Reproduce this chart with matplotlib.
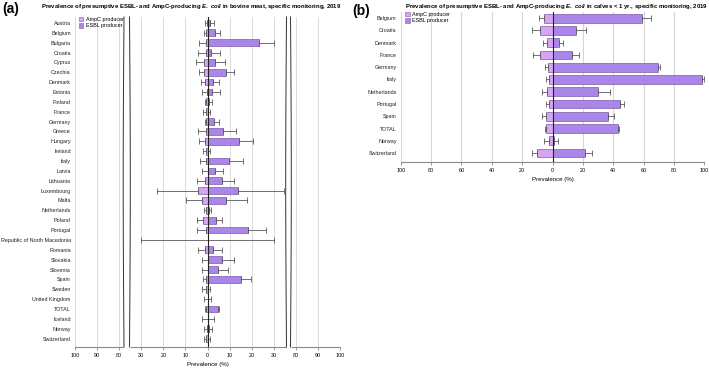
import numpy as np
import matplotlib
matplotlib.use("Agg")
import matplotlib.pyplot as plt
from matplotlib.patches import Patch

plt.rcParams['font.family'] = ['Liberation Sans', 'DejaVu Sans']
plt.rcParams['mathtext.fontset'] = 'custom'
plt.rcParams['mathtext.it'] = 'Liberation Sans:italic:bold'
plt.rcParams['mathtext.rm'] = 'Liberation Sans:bold'

# ---------------- Panel (a): bovine meat ----------------
countries_a = ["Austria", "Belgium", "Bulgaria", "Croatia", "Cyprus", "Czechia", "Denmark",
               "Estonia", "Finland", "France", "Germany", "Greece", "Hungary", "Ireland",
               "Italy", "Latvia", "Lithuania", "Luxembourg", "Malta", "Netherlands", "Poland",
               "Portugal", "Republic of North Macedonia", "Romania", "Slovakia", "Slovenia",
               "Spain", "Sweden", "United Kingdom", "TOTAL", "Iceland", "Norway", "Switzerland"]
ampc_a = [0.3, 0.9, 0.6, 0.8, 1.5, 1.8, 1.3, 0.4, 0.5, 0.9, 0.6, 0.9, 1.0, 0.6,
          0.8, 0.0, 1.2, 4.3, 2.7, 0.7, 2.1, 0.8, 0.0, 1.0, 0.0, 0.0,
          0.7, 0.7, 0.0, 0.9, 0.0, 0.3, 0.6]
ampc_up_a = [1.0, 1.8, 3.9, 4.3, 5.0, 3.9, 3.1, 2.7, 1.2, 2.2, 1.0, 4.2, 4.0, 2.2,
             3.6, 2.5, 4.6, 22.8, 9.9, 1.5, 4.6, 4.6, 30.6, 4.5, 2.5, 2.5,
             1.9, 2.5, 1.6, 1.1, 2.5, 1.6, 1.8]
esbl_a = [1.3, 3.4, 23.4, 1.8, 3.4, 8.4, 2.5, 2.1, 0.6, 0.0, 3.1, 6.9, 14.4, 0.3,
          9.9, 3.6, 6.6, 13.8, 8.6, 0.6, 3.9, 18.3, 0.0, 2.5, 6.6, 4.6,
          15.1, 0.0, 0.0, 4.6, 0.4, 0.9, 0.0]
esbl_up_a = [2.8, 5.5, 30.9, 5.8, 8.0, 12.0, 5.0, 5.5, 2.0, 1.0, 5.0, 12.7, 20.7, 1.2,
             16.0, 6.9, 12.1, 54.0, 17.7, 1.8, 6.6, 26.4, 30.9, 6.6, 12.1, 9.1,
             19.9, 1.3, 1.6, 5.0, 3.1, 2.0, 1.0]
ticks_a = [-100, -90, -80, -30, -20, -10, 0, 10, 20, 30, 80, 90, 100]

# ---------------- Panel (b): calves < 1 yr ----------------
countries_b = ["Belgium", "Croatia", "Denmark", "France", "Germany", "Italy", "Netherlands",
               "Portugal", "Spain", "TOTAL", "Norway", "Switzerland"]
ampc_b = [5.7, 8.1, 3.5, 8.3, 2.9, 2.0, 3.7, 2.0, 4.4, 4.4, 2.4, 9.9]
ampc_up_b = [8.6, 13.4, 6.4, 13.0, 4.8, 4.4, 7.0, 4.0, 7.0, 5.0, 5.3, 13.8]
esbl_b = [59.1, 15.6, 4.2, 12.7, 69.2, 98.6, 30.3, 44.6, 36.4, 43.0, 1.3, 21.3]
esbl_up_b = [64.8, 22.0, 7.2, 17.6, 70.9, 99.9, 38.0, 47.2, 40.8, 43.7, 3.3, 26.3]
ticks_b = [-100, -80, -60, -40, -20, 0, 20, 40, 60, 80, 100]

C_AMPC = '#d7a4f3'
C_ESBL = '#ab86ea'
C_EDGE = '#7b5ca6'
C_ERR = '#5a5a5a'
C_GRID = '#d6d6d6'
FS = 3.9


def fwd(v):
    v = np.asarray(v, dtype=float)
    a = np.abs(v)
    t = np.where(a <= 30, a, np.where(a < 80, 30 + (a - 30) * 0.2, a - 40))
    return np.sign(v) * t


def inv(t):
    t = np.asarray(t, dtype=float)
    a = np.abs(t)
    v = np.where(a <= 30, a, np.where(a < 40, 30 + (a - 30) * 5, a + 40))
    return np.sign(t) * v


def draw_bars(ax, cats, ampc, ampc_up, esbl, esbl_up, h):
    y = np.arange(len(cats))
    ampc = np.asarray(ampc); esbl = np.asarray(esbl)
    ampc_up = np.asarray(ampc_up); esbl_up = np.asarray(esbl_up)
    ax.barh(y, -ampc, height=h, color=C_AMPC, edgecolor=C_EDGE, linewidth=0.5, zorder=3)
    ax.barh(y, esbl, height=h, color=C_ESBL, edgecolor=C_EDGE, linewidth=0.5, zorder=3)
    ax.errorbar(-ampc, y, xerr=[ampc_up - ampc, np.zeros_like(ampc)], fmt='none',
                ecolor=C_ERR, elinewidth=0.6, capsize=2, capthick=0.6, zorder=4)
    ax.errorbar(esbl, y, xerr=[np.zeros_like(esbl), esbl_up - esbl], fmt='none',
                ecolor=C_ERR, elinewidth=0.6, capsize=2, capthick=0.6, zorder=4)
    ax.set_yticks(y)
    ax.set_yticklabels(cats, fontsize=FS, color='#222222')
    ax.tick_params(axis='y', length=0, pad=3)
    for s in ['top', 'left', 'right']:
        ax.spines[s].set_visible(False)
    ax.spines['bottom'].set_color('#8a8a8a')
    ax.spines['bottom'].set_linewidth(0.8)
    ax.tick_params(axis='x', labelsize=FS, length=2, width=0.6, color='#8a8a8a', pad=2)
    ax.axvline(0, color='#222222', lw=0.8, zorder=5)
    leg = ax.legend(handles=[Patch(facecolor=C_AMPC, edgecolor=C_EDGE, lw=0.4, label='AmpC producer'),
                             Patch(facecolor=C_ESBL, edgecolor=C_EDGE, lw=0.4, label='ESBL producer')],
                    loc='upper left', bbox_to_anchor=(0.015, 1.0), frameon=False, fontsize=FS,
                    handlelength=0.8, handleheight=0.8, borderpad=0, labelspacing=0.25,
                    handletextpad=0.5, borderaxespad=0)
    leg.set_zorder(6)


fig = plt.figure(figsize=(7.09, 3.69), dpi=100)

# Panel (a)
axa = fig.add_axes([75 / 709, 1 - 347 / 369, 265 / 709, (347 - 17) / 369])
axa.set_xscale('function', functions=(fwd, inv))
axa.set_xlim(-100, 100)
for t in ticks_a:
    axa.axvline(t, color=C_GRID, lw=0.6, zorder=0)
draw_bars(axa, countries_a, ampc_a, ampc_up_a, esbl_a, esbl_up_a, 0.68)
axa.set_ylim(len(countries_a) - 0.15, -0.6)
axa.set_xticks(ticks_a)
axa.set_xticklabels([str(abs(t)) for t in ticks_a])
axa.xaxis.set_minor_locator(matplotlib.ticker.NullLocator())
axa.set_xlabel('Prevalence (%)', fontsize=4.4, labelpad=3)

# break markers (axes fraction x, full height)
yy = np.linspace(0, 1, 60)
bend = np.sin(np.pi * yy)
for x0, x1 in [((124 - 75) / 265, (129.5 - 75) / 265), ((286.5 - 75) / 265, (290.5 - 75) / 265)]:
    axa.fill_betweenx(yy, x0 - 0.003 * bend, x1 + 0.003 * bend, color='white',
                      transform=axa.transAxes, zorder=5.5)
    axa.plot(x0 - 0.003 * bend, yy, color='#333333', lw=0.7, transform=axa.transAxes,
             zorder=6, clip_on=False)
    axa.plot(x1 + 0.003 * bend, yy, color='#333333', lw=0.7, transform=axa.transAxes,
             zorder=6, clip_on=False)

# Panel (b)
axb = fig.add_axes([400.7 / 709, 1 - 162 / 369, 303.6 / 709, (162 - 12) / 369])
axb.set_xlim(-100, 100)
for t in ticks_b:
    axb.axvline(t, color=C_GRID, lw=0.8, zorder=0)
draw_bars(axb, countries_b, ampc_b, ampc_up_b, esbl_b, esbl_up_b, 0.72)
axb.set_ylim(len(countries_b) - 0.27, -0.5)
axb.set_xticks(ticks_b)
axb.set_xticklabels([str(abs(t)) for t in ticks_b])
axb.set_xlabel('Prevalence (%)', fontsize=4.4, labelpad=3)

# Titles and panel letters
fig.text(191 / 709, 1 - 6.5 / 369,
         r'Prevalence of presumptive ESBL- and AmpC-producing $\mathit{E.\ coli}$ in bovine meat, specific monitoring, 2019',
         ha='center', va='center', fontsize=4.35, fontweight='bold')
fig.text(556 / 709, 1 - 6.5 / 369,
         r'Prevalence of presumptive ESBL- and AmpC-producing $\mathit{E.\ coli}$ in calves < 1 yr., specific monitoring, 2019',
         ha='center', va='center', fontsize=4.35, fontweight='bold')
fig.text(2 / 709, 1 - 9 / 369, '(a)', ha='left', va='center', fontsize=10, fontweight='bold')
fig.text(352 / 709, 1 - 11 / 369, '(b)', ha='left', va='center', fontsize=10, fontweight='bold')

fig.savefig('out.png', dpi=100)
